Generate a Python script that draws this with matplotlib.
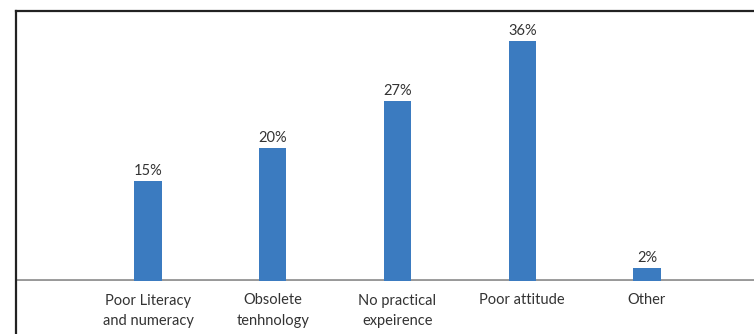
import matplotlib
matplotlib.use("Agg")
import matplotlib.pyplot as plt
from matplotlib.lines import Line2D

categories = ["Poor Literacy\nand numeracy", "Obsolete\ntenhnology", "No practical\nexpeirence",
              "Poor attitude", "Other"]
values = [15, 20, 27, 36, 2]
labels = ["15%", "20%", "27%", "36%", "2%"]

plt.rcParams['font.family'] = ['Lato', 'DejaVu Sans']

W, H = 754, 334
fig = plt.figure(figsize=(W / 100, H / 100), dpi=100)
left_px, top_px, base_px = 16, 11, 281
ax = fig.add_axes([left_px / W, (H - base_px) / H, (W - left_px) / W, (base_px - top_px) / H])

x = list(range(len(categories)))
bars = ax.bar(x, values, width=0.22, color="#3b7bc0", zorder=2)
for xi, v, lab in zip(x, values, labels):
    ax.annotate(lab, (xi, v), xytext=(0, 2), textcoords="offset points",
                ha="center", va="bottom", fontsize=10.5, color="#333333")

spacing = 124.75
ax.set_xlim(-(148 - left_px) / spacing, (W - 148) / spacing)
ax.set_ylim(0, 36 * (base_px - top_px) / (base_px - 41))
ax.axhline(0, color="#999999", lw=2.8, zorder=1)
for s in ax.spines.values():
    s.set_visible(False)
ax.set_yticks([])
ax.set_xticks(x)
ax.set_xticklabels(categories, fontsize=10.5, color="#333333", linespacing=1.6)
ax.tick_params(axis="x", length=0, pad=9)

# figure frame (left and top border)
fx = left_px / W
fy = (H - top_px) / H
fig.add_artist(Line2D([fx, fx], [0, fy], transform=fig.transFigure, color="#222222", lw=1.6))
fig.add_artist(Line2D([fx, 1], [fy, fy], transform=fig.transFigure, color="#222222", lw=1.6))

fig.savefig("out.png", dpi=100)
